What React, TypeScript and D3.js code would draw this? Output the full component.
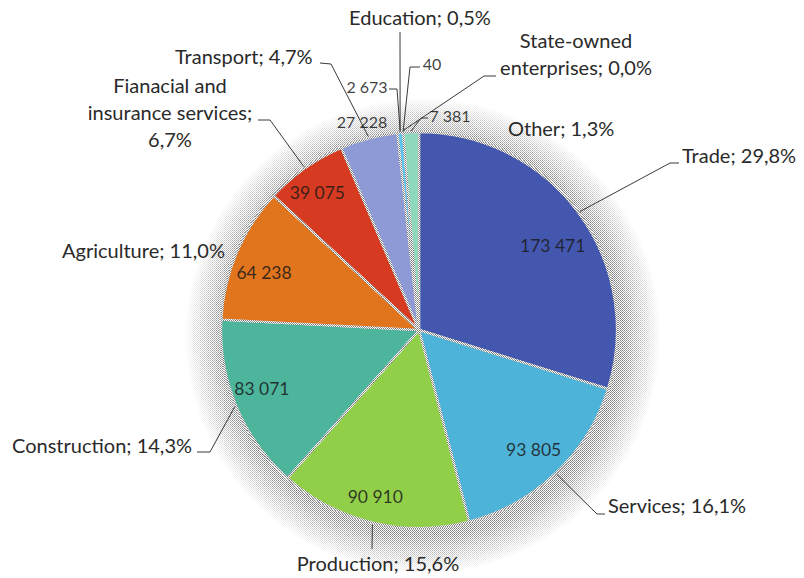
import React from "react";
import * as d3 from "d3";

const categories = [
  "Trade", "Services", "Production", "Construction", "Agriculture",
  "Fianacial and insurance services", "Transport", "Education", "State-owned enterprises", "Other",
];
const values = [173471, 93805, 90910, 83071, 64238, 39075, 27228, 2673, 40, 7381];
const percentLabels = ["29,8%", "16,1%", "15,6%", "14,3%", "11,0%", "6,7%", "4,7%", "0,5%", "0,0%", "1,3%"];
const valueLabels = ["173 471", "93 805", "90 910", "83 071", "64 238", "39 075", "27 228", "2 673", "40", "7 381"];
const colors = ["#4357ae", "#4eb3d8", "#92cf49", "#4db59c", "#e1751e", "#d63a20", "#8e9ad6", "#5cc4ef", "#7fb9e0", "#8ed9bc"];

// layout (positions only)
const W = 804, H = 578;
const CX = 419, CY = 330, R = 198;

const catLayout = [
  { lines: ["Trade; 29,8%"], x: 682, y: 163, anchor: "start", leader: [[670, 163], [679, 163]] },
  { lines: ["Services; 16,1%"], x: 608, y: 513, anchor: "start", leader: [[597, 514], [605, 514]] },
  { lines: ["Production; 15,6%"], x: 378, y: 571, anchor: "middle", leader: [[372, 549]] },
  { lines: ["Construction; 14,3%"], x: 12, y: 453, anchor: "start", leader: [[210, 452], [197, 452]] },
  { lines: ["Agriculture; 11,0%"], x: 62, y: 258, anchor: "start", leader: null },
  { lines: ["Fianacial and", "insurance services;", "6,7%"], x: 170, y: 93, anchor: "middle", leader: [[270, 120], [258, 120]] },
  { lines: ["Transport; 4,7%"], x: 175, y: 64, anchor: "start", leader: [[331, 64], [320, 63]] },
  { lines: ["Education; 0,5%"], x: 420, y: 25, anchor: "middle", leader: [[400, 32]] },
  { lines: ["State-owned", "enterprises; 0,0%"], x: 576, y: 48, anchor: "middle", leader: [[484, 76], [496, 76]] },
  { lines: ["Other; 1,3%"], x: 508, y: 136, anchor: "start", leader: null },
];

const valLayout = [
  { dx: 0, dy: 14, abs: null, leader: null },
  { dx: 0, dy: 0, abs: null, leader: null },
  { dx: -5, dy: 6, abs: null, leader: null },
  { dx: -4, dy: -5, abs: null, leader: null },
  { dx: -2, dy: 7, abs: null, leader: null },
  { dx: -6, dy: -1, abs: null, leader: null },
  { dx: 0, dy: 0, abs: [362, 128], leader: null },
  { dx: 0, dy: 0, abs: [367, 93], leader: [[397, 89], [389, 89]] },
  { dx: 0, dy: 0, abs: [432, 70], leader: [[410, 67], [420, 67]] },
  { dx: 0, dy: 0, abs: [450, 122], leader: [[421, 118], [428, 118]] },
];

const FONT = "Lato, 'Open Sans', sans-serif";

export default function App() {
  const pie = d3.pie<number>().sort(null).value((d) => d);
  const arcs = pie(values);
  const arc = d3.arc<d3.PieArcDatum<number>>().innerRadius(0).outerRadius(R);
  const labelArc = d3.arc<d3.PieArcDatum<number>>().innerRadius(166).outerRadius(166);

  const edgePoint = (a: d3.PieArcDatum<number>, r: number): [number, number] => {
    const ang = (a.startAngle + a.endAngle) / 2;
    return [CX + r * Math.sin(ang), CY - r * Math.cos(ang)];
  };
  const HR = R + 40;
  const HX = CX + 4, HY = CY + 6;

  return (
    <svg width={W} height={H} style={{ position: "absolute", left: 0, top: 0, background: "#fff" }}>
      <defs>
        <pattern id="dither" width="2" height="2" patternUnits="userSpaceOnUse">
          <rect width="2" height="2" fill="#ffffff" />
          <rect width="1" height="1" fill="#7a7a7a" />
          <rect x="1" y="1" width="1" height="1" fill="#9a9a9a" />
        </pattern>
        <radialGradient id="halo" cx={HX} cy={HY} r={HR} gradientUnits="userSpaceOnUse">
          <stop offset="0" stopColor="#fff" stopOpacity="1" />
          <stop offset={(R + 2) / HR} stopColor="#fff" stopOpacity="1" />
          <stop offset={(R + 16) / HR} stopColor="#fff" stopOpacity="0.6" />
          <stop offset="1" stopColor="#fff" stopOpacity="0" />
        </radialGradient>
        <mask id="haloMask">
          <circle cx={HX} cy={HY} r={HR} fill="url(#halo)" />
        </mask>
      </defs>
      <rect x={CX - R - 50} y={CY - R - 50} width={2 * R + 110} height={2 * R + 110} fill="url(#dither)" mask="url(#haloMask)" />
      <g transform={`translate(${CX},${CY})`}>
        {arcs.map((a, i) => (
          <path key={i} d={arc(a) || ""} fill={colors[i]} stroke="url(#dither)" strokeWidth={2.4} strokeLinejoin="round" />
        ))}
      </g>
      {arcs.map((a, i) => {
        const L = catLayout[i];
        if (!L.leader) return null;
        const s = edgePoint(a, R + 2);
        const pts = [s, ...L.leader];
        return <polyline key={"cl" + i} points={pts.map((p) => p.join(",")).join(" ")} fill="none" stroke="#3a3a3a" strokeWidth={1} />;
      })}
      {arcs.map((a, i) => {
        const L = valLayout[i];
        if (!L.leader) return null;
        const s = edgePoint(a, R + 1);
        const pts = [s, ...L.leader];
        return <polyline key={"vl" + i} points={pts.map((p) => p.join(",")).join(" ")} fill="none" stroke="#3a3a3a" strokeWidth={1} />;
      })}
      {arcs.map((a, i) => {
        const L = valLayout[i];
        let x: number, y: number;
        if (L.abs) {
          [x, y] = L.abs;
        } else {
          const c = labelArc.centroid(a);
          x = CX + c[0] + L.dx;
          y = CY + c[1] + L.dy + 6;
        }
        return (
          <text key={"v" + i} x={x} y={y} textAnchor="middle" fontFamily={FONT} fontSize={L.abs ? 16 : 17.5} fill="#1a1a1a" fillOpacity={0.85}>
            {valueLabels[i]}
          </text>
        );
      })}
      {catLayout.map((L, i) => (
        <text key={"c" + i} x={L.x} y={L.y} textAnchor={L.anchor as any} fontFamily={FONT} fontSize={20} fill="#2a2a2a">
          {L.lines.map((ln, j) => (
            <tspan key={j} x={L.x} dy={j === 0 ? 0 : 27}>{ln}</tspan>
          ))}
        </text>
      ))}
    </svg>
  );
}
